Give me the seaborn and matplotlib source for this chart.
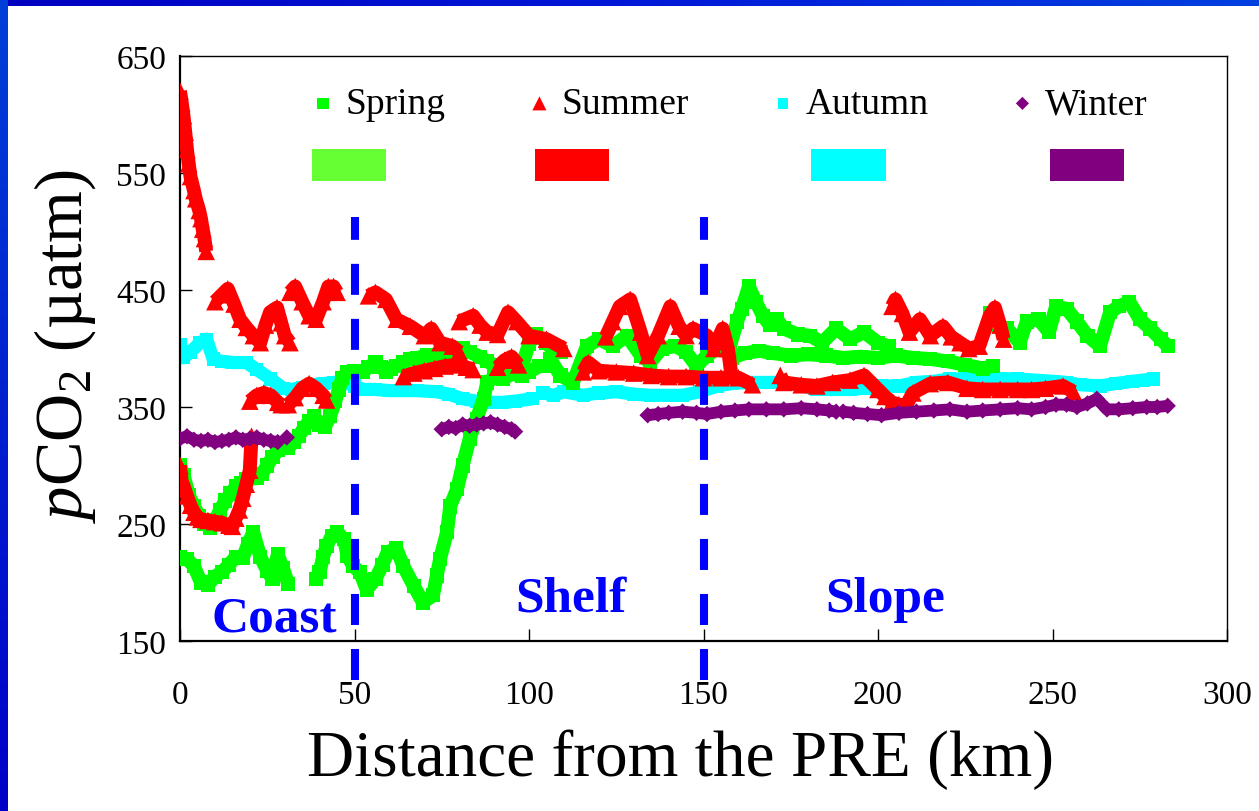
import numpy as np
import pandas as pd
import seaborn as sns
import matplotlib.pyplot as plt
from matplotlib.patches import Rectangle

# ---- data (distance km, pCO2 uatm) ----
# Spring (green squares)
spring_a_x = [0, 2, 4, 6, 8, 10, 12, 14, 16, 18, 19.5, 21, 23, 25, 26.5, 28, 29.5, 31]
spring_a_y = [222, 220, 214, 200, 198, 205, 209, 215, 222, 221, 233, 243, 222, 210, 203, 224, 212, 199]
spring_b_x = [39, 40, 41, 42, 43.5, 45, 47, 48, 49.6, 51.5, 53.5, 56, 58, 59.5, 62, 64, 67, 69.6,
              72.5, 73.6, 74.5, 76.5, 77.4, 79.4, 81, 83, 85, 87, 88, 90, 92.5, 95, 98, 100, 103, 105]
spring_b_y = [203, 209, 222, 231, 240, 243, 237, 223, 214, 209, 194, 203, 215, 226, 229, 214, 197, 183,
              189, 206, 220, 243, 265, 280, 300, 323, 340, 357, 371, 375, 374, 378, 377, 380, 385, 385]
spring_c_x = [0, 1, 2.5, 4, 5.5, 7, 8.5, 10, 11.5, 13, 14.5, 16, 17.5, 19, 20.5, 22, 23.5, 25, 26.5,
              28, 29.5, 31, 32.5, 34, 35.5, 37, 38.5, 40, 41.5, 43, 44.5, 45.5, 46.5, 48]
spring_c_y = [300, 292, 275, 265, 257, 250, 247, 253, 262, 270, 276, 282, 285, 288, 289, 289, 293, 300, 307,
              313, 318, 315, 320, 325, 332, 338, 342, 335, 333, 342, 355, 365, 375, 380]
spring_d_x = [48, 50, 52.4, 54, 56, 57.5, 59, 60.5, 62, 64, 66, 68, 70.7, 73, 75.4, 77, 79, 81,
              83, 86, 88, 90, 92.5, 95, 98, 100, 102, 105, 107, 109]
spring_d_y = [380, 381, 380, 384, 388, 384, 380, 383, 385, 388, 391, 392, 394, 394, 394, 394, 394, 400,
              397, 393, 389, 386, 384, 382, 385, 404, 412, 405, 398, 397]
spring_e_x = [106, 109, 112.6, 116.6, 120, 124, 128, 132, 134.7, 138, 142, 145, 148, 151, 154, 157.6,
              159.6, 161, 163]
spring_e_y = [391, 377, 371, 402, 408, 402, 411, 394, 388, 400, 402, 397, 385, 394, 400, 402,
              423, 434, 453]
spring_f_x = [163, 165, 167, 169, 171, 173, 177, 180.5, 184, 188, 192, 196, 200, 203]
spring_f_y = [453, 440, 428, 420, 425, 417, 412, 411, 405, 417, 408, 414, 405, 402]
spring_g_x = [158, 162, 166, 170, 175, 180, 185, 190, 195, 200, 205, 210, 215, 220, 225, 230, 233]
spring_g_y = [392, 396, 398, 396, 394, 395, 394, 392, 393, 392, 394, 392, 391, 389, 386, 383, 385]
spring_h_x = [232, 234, 237, 240.6, 242.6, 246, 249, 251, 254, 257, 260, 263.6, 266.5, 269, 272, 275,
              278, 281, 283]
spring_h_y = [430, 420, 417, 405, 423, 425, 414, 436, 434, 423, 411, 402, 431, 436, 440, 425,
              417, 408, 402]

# Summer (red triangles)
summer_a_x = [0, 0.5, 1, 1.5, 2, 2.5, 3, 4, 4.5, 5.5, 6, 6.5, 7, 7.5]
summer_a_y = [620, 610, 599, 585, 570, 558, 547, 535, 528, 518, 511, 502, 494, 483]
summer_b_x = [0, 0.5, 1, 2, 3, 4, 5, 6, 8, 10, 12, 14, 15, 16, 17, 18, 19, 20, 20.5]
summer_b_y = [300, 285, 283, 274, 266, 260, 256, 254, 253, 252, 251, 249, 248, 255, 262, 272, 284, 296, 325]
summer_c_x = [20, 22, 24, 26, 28, 29]
summer_c_y = [355, 360, 362, 360, 354, 352]
summer_d_x = [31, 33, 35, 37, 39, 41, 42]
summer_d_y = [352, 358, 366, 370, 366, 360, 356]
summer_e_x = [10, 12, 13.7, 15.5, 17.2, 19, 21, 23, 24.5, 25.8, 27.8, 29, 30, 31.5]
summer_e_y = [440, 446, 451, 438, 425, 418, 411, 405, 420, 431, 435, 422, 411, 405]
summer_f_x = [31.5, 33, 35, 37, 39, 41, 42.5, 44, 45]
summer_f_y = [448, 453, 440, 428, 425, 440, 453, 453, 448]
summer_g_x = [54, 56, 59, 62, 66, 70, 72, 74.5, 78, 80]
summer_g_y = [445, 448, 442, 425, 419, 411, 417, 405, 402, 397]
summer_h_x = [80, 84, 86, 88, 91, 94, 96.5, 100, 105, 110]
summer_h_y = [423, 428, 420, 414, 412, 431, 423, 411, 408, 400]
summer_i_x = [122, 124, 126, 129, 132, 134, 137, 140.5, 143, 145, 147, 151, 153, 155.5, 157, 158]
summer_i_y = [410, 423, 436, 442, 414, 394, 411, 436, 419, 411, 417, 411, 400, 417, 400, 377]
summer_j_x = [64, 67, 70, 73, 76, 79, 82, 84]
summer_j_y = [376, 379, 381, 383, 385, 386, 384, 382]
summer_k_x = [91, 93, 95, 97]
summer_k_y = [384, 390, 393, 386]
summer_l_x = [115.5, 117, 120, 125, 130, 135, 140, 145, 150, 155, 160, 164]
summer_l_y = [380, 388, 381, 380, 379, 377, 376, 376, 375, 375, 375, 369]
summer_m_x = [172, 173, 178, 182.5, 187, 192, 196, 200, 202, 204, 206, 208, 210, 215, 220,
              225.5, 230, 235, 240, 244, 248, 253, 256]
summer_m_y = [377, 371, 369, 368, 371, 373, 377, 365, 359, 354, 352, 351, 362, 370, 371,
              366, 365, 365, 365, 365, 366, 368, 363]
summer_n_x = [204, 205, 207, 209, 212, 215, 218.6, 221, 223.5, 226, 229, 232, 233.5, 235, 236]
summer_n_y = [436, 442, 430, 414, 425, 411, 419, 410, 405, 400, 402, 428, 435, 420, 408]

# Autumn (cyan squares)
autumn_a_x = [0, 1, 3, 5.7, 7.6, 9.5, 12, 15, 19, 22, 26, 29.5, 32, 35, 38, 41, 44, 47, 50, 52.5,
              56, 60, 64, 68, 73.6, 77, 81, 85, 88, 92.5, 96, 101]
autumn_a_y = [403, 392, 397, 405, 408, 391, 389, 388, 388, 382, 374, 366, 365, 367, 369, 370, 371, 371, 368, 365,
              365, 364, 364, 364, 363, 361, 357, 355, 354, 354, 355, 357]
autumn_b_x = [104, 107, 110, 115.5, 120, 125, 130, 134.7, 140, 144, 149, 154, 158, 163, 168, 173, 178,
              182.5, 187, 192, 196, 201, 206, 211, 216, 220.6, 225.5, 230, 235, 240, 245, 250, 254,
              258, 263.6, 268, 273, 276, 279]
autumn_b_y = [362, 360, 363, 360, 362, 363, 361, 360, 360, 360, 363, 368, 370, 371, 371, 371, 368,
              365, 365, 365, 366, 368, 368, 371, 372, 374, 374, 373, 374, 374, 373, 372, 371,
              369, 368, 370, 372, 373, 374]

# Winter (purple diamonds)
winter_a_x = [0, 2, 4, 6, 8, 10, 12, 14, 16, 18, 20, 22, 24, 26, 28]
winter_a_y = [323, 325, 322, 321, 322, 320, 321, 322, 324, 322, 323, 324, 322, 321, 320]
winter_b_x = [30.6]
winter_b_y = [324]
winter_c_x = [75, 77, 79, 81, 83, 85, 87, 89, 91, 93, 95, 96]
winter_c_y = [331, 333, 332, 335, 334, 335, 336, 337, 335, 333, 331, 329]
winter_d_x = [134, 137, 140, 144, 148, 151, 155, 159, 163, 168, 173, 178, 182.5, 186, 188]
winter_d_y = [343, 344, 345, 346, 345, 344, 346, 347, 348, 348, 348, 349, 348, 347, 346]
winter_e_x = [190, 193, 197, 201, 206, 211, 216, 220.6, 225.5, 230, 235, 240, 244, 248, 251, 254,
              257, 260, 262.7, 265.6, 269, 273, 277, 280, 283]
winter_e_y = [346, 345, 344, 343, 345, 346, 347, 348, 346, 347, 348, 349, 348, 350, 352, 352,
              350, 353, 357, 348, 348, 349, 350, 350, 351]

seasons = ["Spring", "Summer", "Autumn", "Winter"]
colors = ["#00FF00", "#FF0000", "#00FFFF", "#800080"]
bar_colors = ["#66FF33", "#FF0000", "#00FFFF", "#800080"]
zone_bounds = [50, 150]
zone_names = ["Coast", "Shelf", "Slope"]
zone_x = [27, 112, 202]
zone_y = [159, 176, 176]


def build_frame():
    segs = {
        "Spring": [(spring_a_x, spring_a_y), (spring_b_x, spring_b_y), (spring_c_x, spring_c_y),
                   (spring_d_x, spring_d_y), (spring_e_x, spring_e_y), (spring_f_x, spring_f_y),
                   (spring_g_x, spring_g_y), (spring_h_x, spring_h_y)],
        "Summer": [(summer_a_x, summer_a_y), (summer_b_x, summer_b_y), (summer_c_x, summer_c_y),
                   (summer_d_x, summer_d_y), (summer_e_x, summer_e_y), (summer_f_x, summer_f_y),
                   (summer_g_x, summer_g_y), (summer_h_x, summer_h_y), (summer_i_x, summer_i_y),
                   (summer_j_x, summer_j_y), (summer_k_x, summer_k_y), (summer_l_x, summer_l_y),
                   (summer_m_x, summer_m_y), (summer_n_x, summer_n_y)],
        "Autumn": [(autumn_a_x, autumn_a_y), (autumn_b_x, autumn_b_y)],
        "Winter": [(winter_a_x, winter_a_y), (winter_b_x, winter_b_y), (winter_c_x, winter_c_y),
                   (winter_d_x, winter_d_y), (winter_e_x, winter_e_y)],
    }
    rows = []
    for season, lst in segs.items():
        for i, (xs, ys) in enumerate(lst):
            for x, y in zip(xs, ys):
                rows.append((season, season + str(i), x, y))
    return pd.DataFrame(rows, columns=["season", "seg", "dist", "pco2"])


def add_frame_bars(fig):
    # blue slide border (top and left)
    grad = np.linspace(0, 1, 256)
    top = fig.add_axes([0, 1 - 7 / 812, 1, 7 / 812])
    top.imshow(np.vstack([grad, grad]), aspect="auto",
               cmap=sns.blend_palette(["#0000C0", "#0018D8", "#0040E0"], as_cmap=True))
    top.axis("off")
    left = fig.add_axes([0, 0, 8 / 1259, 1])
    left.imshow(grad[::-1, None], aspect="auto",
                cmap=sns.blend_palette(["#0000C8", "#0040D8"], as_cmap=True))
    left.axis("off")


def main():
    sns.set_style("ticks")
    plt.rcParams["font.family"] = ["Liberation Serif", "DejaVu Serif"]
    plt.rcParams["mathtext.fontset"] = "custom"
    plt.rcParams["mathtext.rm"] = "Liberation Serif"
    plt.rcParams["mathtext.it"] = "Liberation Serif:italic"
    #seaborn greys the text, the slide uses plain black
    for key in ["text.color", "axes.labelcolor", "xtick.color", "ytick.color"]:
        plt.rcParams[key] = "black"

    df = build_frame()

    fig = plt.figure(figsize=(12.59, 8.12), dpi=100)
    ax = fig.add_axes([180 / 1259, 1 - 642 / 812, 1047 / 1259, 585 / 812])
    add_frame_bars(fig)

    style = {
        "Spring": dict(marker="s", s=105, lw=10, z=3),
        "Summer": dict(marker="^", s=160, lw=10, z=4),
        "Autumn": dict(marker="s", s=90, lw=9.5, z=2),
        "Winter": dict(marker="D", s=70, lw=8.5, z=5),
    }
    handles = []
    for season, col in zip(seasons, colors):
        sub = df[df["season"] == season]
        st = style[season]
        sns.lineplot(data=sub, x="dist", y="pco2", units="seg", estimator=None, sort=False,
                     color=col, lw=st["lw"], ax=ax, zorder=st["z"], legend=False,
                     solid_joinstyle="round", solid_capstyle="butt")
        sns.scatterplot(data=sub, x="dist", y="pco2", marker=st["marker"], s=st["s"],
                        color=col, edgecolor="none", linewidth=0, ax=ax, zorder=st["z"],
                        legend=False)
        coll = ax.collections[-1]
        coll.set_label(season)
        handles.append(coll)

    # zone boundaries
    for xb in zone_bounds:
        ax.plot([xb, xb], [117, 512], color="#0000FF", lw=5.8, ls=(0, (3.85, 2.98)),
                dash_capstyle="butt", clip_on=False, zorder=6)
    for name, zx, zy in zip(zone_names, zone_x, zone_y):
        ax.text(zx, zy, name, color="#0000FF", fontsize=37, fontweight="bold",
                ha="center", va="baseline", zorder=7)

    # legend row + colour bars
    ax.legend(handles=handles, labels=seasons, ncol=4, loc="center left",
              bbox_to_anchor=(0.126, 0.918), frameon=False, fontsize=27,
              handlelength=0.6, handletextpad=0.3, columnspacing=2.2,
              borderpad=0, borderaxespad=0, markerscale=0.8)
    bar_left = [0.126, 0.339, 0.603, 0.831]
    for bx, bc in zip(bar_left, bar_colors):
        ax.add_patch(Rectangle((bx, 0.786), 0.071, 0.055, transform=ax.transAxes,
                               color=bc, zorder=8, lw=0))

    ax.set_xlim(0, 300)
    ax.set_ylim(150, 650)
    ax.set_xticks(range(0, 301, 50))
    ax.set_yticks(range(150, 651, 100))
    ax.tick_params(axis="both", direction="in", length=8.5, width=1, labelsize=24,
                   top=False, right=False, colors="black")
    ax.tick_params(axis="x", pad=28)
    ax.tick_params(axis="y", pad=10)
    for side, sp in ax.spines.items():
        sp.set_visible(True)
        sp.set_color("black")
        sp.set_linewidth(1.6 if side in ("left", "bottom") else 1.0)

    ax.set_xlabel("Distance from the PRE (km)", fontsize=47, color="black")
    ax.xaxis.set_label_coords(0.4776, -0.150)
    ax.set_ylabel(r"$p$CO$_2$ (µatm)", fontsize=48, color="black")
    ax.yaxis.set_label_coords(-0.078, 0.505)

    fig.savefig("out.png", dpi=100)


if __name__ == "__main__":
    main()
